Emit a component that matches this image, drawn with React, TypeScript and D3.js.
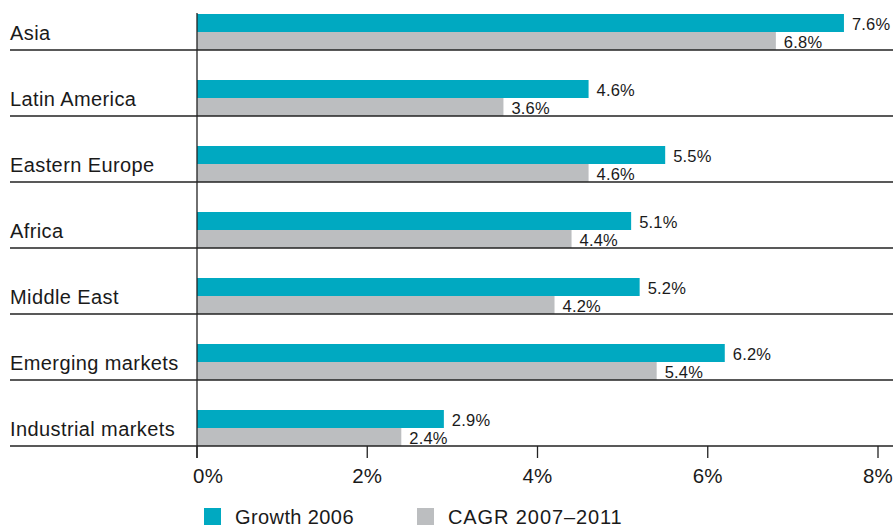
import React from "react";
import * as d3 from "d3";

const categories = [
    "Asia",
    "Latin America",
    "Eastern Europe",
    "Africa",
    "Middle East",
    "Emerging markets",
    "Industrial markets",
];
const growth2006 = [7.6, 4.6, 5.5, 5.1, 5.2, 6.2, 2.9];
const cagr20072011 = [6.8, 3.6, 4.6, 4.4, 4.2, 5.4, 2.4];
const seriesNames = ["Growth 2006", "CAGR 2007\u20132011"];
const xTicks = [0, 2, 4, 6, 8];

const COLORS = ["#00a9c1", "#bcbec0"];
const FONT = "'Liberation Sans', Arial, Helvetica, sans-serif";
const TEXT = "#1a1a1a";

const width = 896;
const height = 529;

const App: React.FC = () => {
    // Layout
    const x0 = 197;
    const x1 = 878;
    const rowTop = -16;
    const rowBottom = 446;
    const pairHeight = 36;

    const x = d3.scaleLinear().domain([0, 8]).range([x0, x1]);
    const y = d3.scaleBand<string>().domain(categories).range([rowTop, rowBottom]).padding(0);
    const inner = d3.scaleBand<string>().domain(seriesNames).range([0, pairHeight]);
    const band = y.bandwidth();

    const seriesValues = [growth2006, cagr20072011];

    return (
        <svg
            width={width}
            height={height}
            style={{ position: "absolute", left: 0, top: 0, background: "#fff" }}
            fontFamily={FONT}
        >
            {categories.map((cat, i) => {
                const bottom = (y(cat) ?? 0) + band;
                const pairTop = bottom - pairHeight;
                return (
                    <g key={cat}>
                        {seriesNames.map((s, si) => {
                            const v = seriesValues[si][i];
                            const by = pairTop + (inner(s) ?? 0);
                            const bh = inner.bandwidth();
                            return (
                                <g key={s}>
                                    <rect
                                        x={x(0)}
                                        y={by}
                                        width={x(v) - x(0)}
                                        height={bh}
                                        fill={COLORS[si]}
                                    />
                                    <text
                                        x={x(v) + 8}
                                        y={by + bh - 2}
                                        fontSize={16.5}
                                        fill={TEXT}
                                        letterSpacing={0.2}
                                    >
                                        {v.toFixed(1)}%
                                    </text>
                                </g>
                            );
                        })}
                        <text
                            x={10}
                            y={bottom - 10}
                            fontSize={20}
                            letterSpacing={0.4}
                            fill={TEXT}
                        >
                            {cat}
                        </text>
                        <line
                            x1={10}
                            x2={893}
                            y1={bottom}
                            y2={bottom}
                            stroke="#222"
                            strokeWidth={1.3}
                        />
                    </g>
                );
            })}

            {/* vertical axis line */}
            <line x1={x(0)} x2={x(0)} y1={13} y2={458} stroke="#222" strokeWidth={1.3} />

            {/* ticks and labels */}
            {xTicks.map((t, i) => (
                <g key={t}>
                    <line
                        x1={x(t)}
                        x2={x(t)}
                        y1={rowBottom}
                        y2={458}
                        stroke="#222"
                        strokeWidth={1.3}
                    />
                    <text
                        x={i === 0 ? x(t) - 4 : x(t)}
                        y={483}
                        textAnchor={i === 0 ? "start" : "middle"}
                        fontSize={20.5}
                        fill={TEXT}
                        letterSpacing={0.3}
                    >
                        {t}%
                    </text>
                </g>
            ))}

            {/* legend */}
            {seriesNames.map((s, si) => {
                const lx = si === 0 ? 204 : 417;
                return (
                    <g key={s}>
                        <rect x={lx} y={508} width={17} height={17} fill={COLORS[si]} />
                        <text
                            x={lx + 31}
                            y={524}
                            fontSize={20}
                            fill={TEXT}
                            letterSpacing={si === 0 ? 0.4 : 0.9}
                        >
                            {s}
                        </text>
                    </g>
                );
            })}
        </svg>
    );
};

export default App;
